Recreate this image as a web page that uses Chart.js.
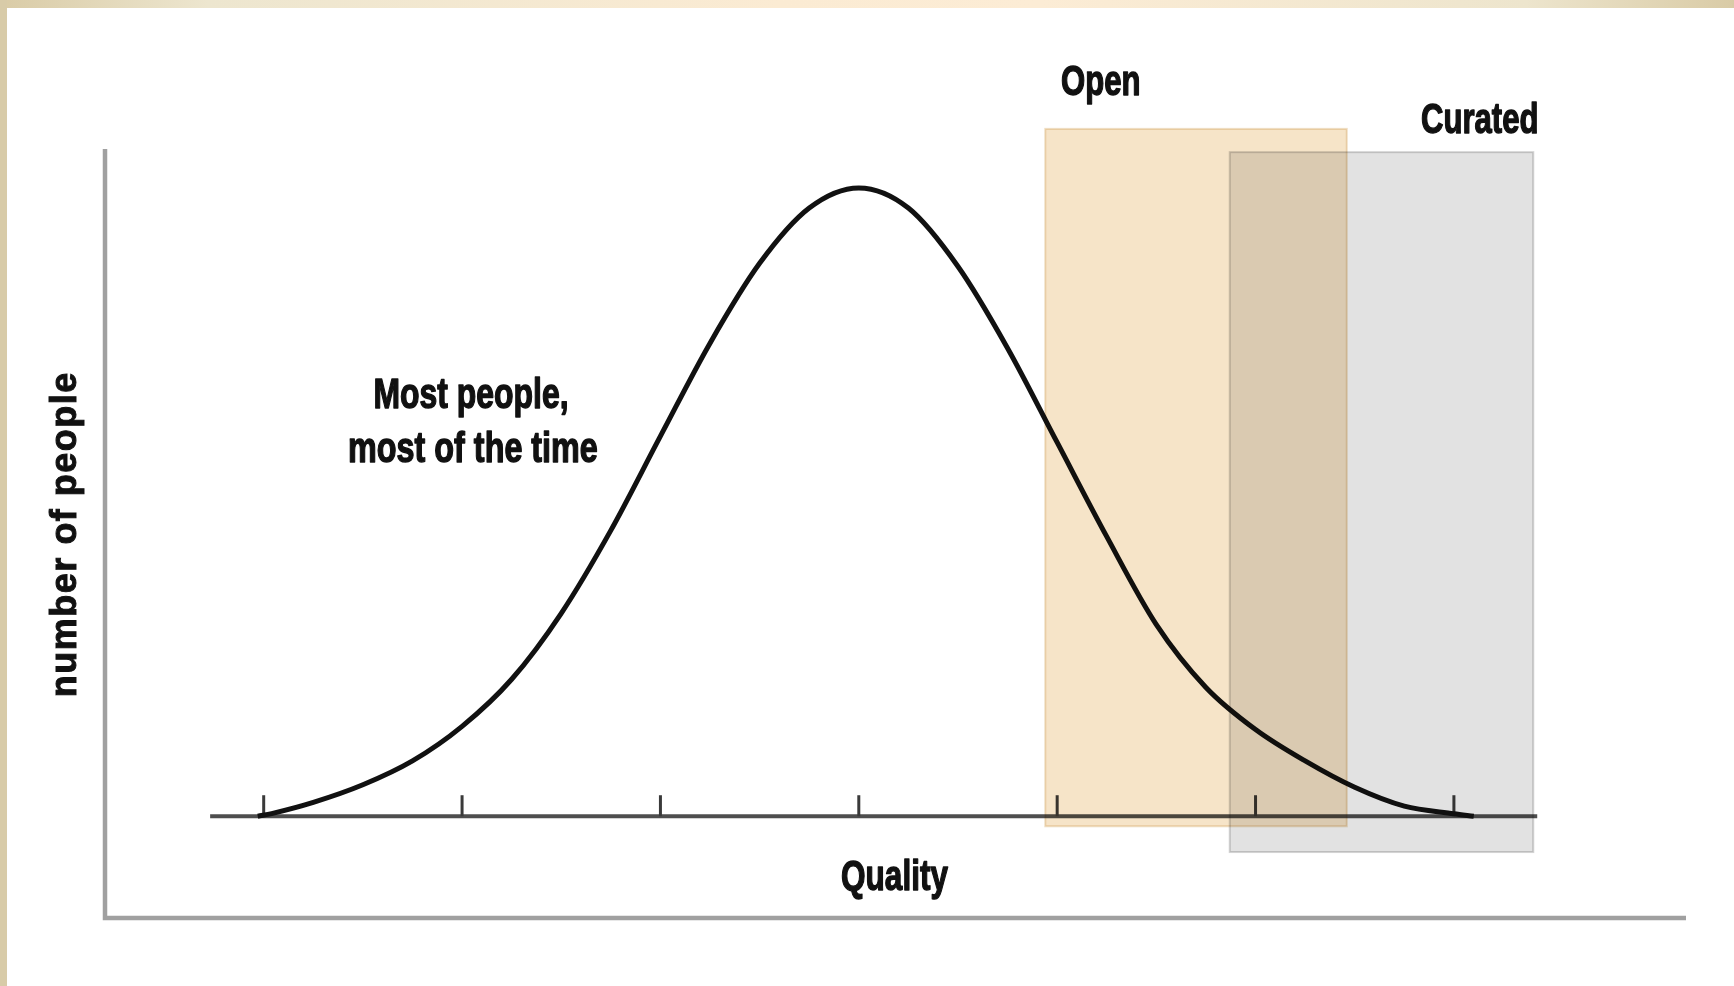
<!DOCTYPE html>
<html>
<head>
<meta charset="utf-8">
<title>Quality distribution</title>
<script src="https://cdn.jsdelivr.net/npm/chart.js@4.4.1/dist/chart.umd.min.js"></script>
<style>
    html, body { margin: 0; padding: 0; background: #fff; }
    canvas { display: block; }
</style>
</head>
<body>
<canvas id="chart" width="1734" height="986"></canvas>
<script>
// Curve: x in tick units (0 = middle tick), y in % of the peak
const qualityX = [-3.03, -2.95, -2.75, -2.5, -2.25, -2.0, -1.75, -1.5, -1.25, -1.0, -0.75, -0.5, -0.25,
                  0, 0.25, 0.5, 0.75, 1.0, 1.25, 1.5, 1.75, 2.0, 2.25, 2.5, 2.75, 3.0, 3.1];
const peopleY  = [0, 0.5, 2.2, 5.0, 8.8, 14.3, 21.8, 32.3, 45.5, 60.5, 75.3, 88, 96.8,
                  100, 96.8, 87.5, 74.5, 59.5, 44.5, 30.5, 20.5, 13.8, 8.8, 4.6, 1.6, 0.4, 0];

// Tick marks on the quality axis and its extent
const tickValues = [-3, -2, -1, 0, 1, 2, 3];
const axisRange = [-3.27, 3.42];

// Shaded bands (x from/to in tick units, y low/high in % of peak)
const bandNames = ['Open', 'Curated'];
const bandStart = [0.94, 1.87];
const bandEnd   = [2.46, 3.40];
const bandLow   = [-1.6, -5.7];
const bandHigh  = [109.4, 105.7];

const FONT = '"Liberation Sans", Arial, sans-serif';

// condensed heavy lettering: squeeze a bold face horizontally and thicken it a little
function drawLabel(ctx, text, px, py, size, squeeze) {
    ctx.save();
    ctx.translate(px, py);
    ctx.scale(squeeze, 1);
    ctx.font = `bold ${size}px ${FONT}`;
    ctx.fillStyle = '#111';
    ctx.strokeStyle = '#111';
    ctx.lineWidth = 1.4;
    ctx.lineJoin = 'round';
    ctx.textAlign = 'center';
    ctx.textBaseline = 'alphabetic';
    ctx.fillText(text, 0, 0);
    ctx.strokeText(text, 0, 0);
    ctx.restore();
}

const sketchPlugin = {
    id: 'sketch',
    beforeDraw(chart) {
        const { ctx, width, height, chartArea: a } = chart;
        const xs = chart.scales.x, ys = chart.scales.y;
        ctx.save();
        ctx.fillStyle = '#fff';
        ctx.fillRect(0, 0, width, height);

        // page frame
        const g = ctx.createLinearGradient(0, 0, width, 0);
        g.addColorStop(0, '#d9cba6');
        g.addColorStop(0.12, '#ede6cf');
        g.addColorStop(0.45, '#fbebd3');
        g.addColorStop(0.6, '#fcecd5');
        g.addColorStop(0.88, '#ede5cd');
        g.addColorStop(1, '#d9cba6');
        ctx.fillStyle = g;
        ctx.fillRect(0, 0, width, 8);
        ctx.fillStyle = '#d8cba8';
        ctx.fillRect(0, 0, 7, height);

        // outer L axes
        ctx.strokeStyle = '#a0a0a0';
        ctx.lineWidth = 4.5;
        ctx.beginPath();
        ctx.moveTo(a.left, a.top);
        ctx.lineTo(a.left, a.bottom);
        ctx.lineTo(a.right, a.bottom);
        ctx.stroke();

        // inner quality axis with ticks
        const y0 = ys.getPixelForValue(0);
        ctx.strokeStyle = '#4e4e4e';
        ctx.lineWidth = 4;
        ctx.beginPath();
        ctx.moveTo(xs.getPixelForValue(axisRange[0]), y0);
        ctx.lineTo(xs.getPixelForValue(axisRange[1]), y0);
        ctx.stroke();
        ctx.strokeStyle = '#3a3a3a';
        ctx.lineWidth = 3;
        tickValues.forEach(v => {
            const px = xs.getPixelForValue(v);
            ctx.beginPath();
            ctx.moveTo(px, y0);
            ctx.lineTo(px, y0 - 21);
            ctx.stroke();
        });
        ctx.restore();
    },
    afterDatasetsDraw(chart) {
        const { ctx, chartArea: a } = chart;
        const xs = chart.scales.x, ys = chart.scales.y;
        const fills = ['#f6e4c8', '#e2e2e2'];
        const edges = ['#f0e0c6', '#d4d4d4'];

        ctx.save();
        ctx.globalCompositeOperation = 'multiply';
        bandNames.forEach((name, i) => {
            const l = xs.getPixelForValue(bandStart[i]);
            const r = xs.getPixelForValue(bandEnd[i]);
            const t = ys.getPixelForValue(bandHigh[i]);
            const b = ys.getPixelForValue(bandLow[i]);
            ctx.fillStyle = fills[i];
            ctx.fillRect(l, t, r - l, b - t);
            ctx.strokeStyle = edges[i];
            ctx.lineWidth = 2;
            ctx.strokeRect(l, t, r - l, b - t);
        });
        ctx.restore();

        // text
        drawLabel(ctx, 'Open', xs.getPixelForValue(1.22), ys.getPixelForValue(114.8), 42, 0.74);
        drawLabel(ctx, 'Curated', xs.getPixelForValue(3.13), ys.getPixelForValue(108.8), 42, 0.74);
        drawLabel(ctx, 'Quality', xs.getPixelForValue(0.18), ys.getPixelForValue(-11.8), 42, 0.75);
        drawLabel(ctx, 'Most people,', xs.getPixelForValue(-1.955), ys.getPixelForValue(65), 42, 0.76);
        drawLabel(ctx, 'most of the time', xs.getPixelForValue(-1.945), ys.getPixelForValue(56.4), 42, 0.77);

        ctx.save();
        ctx.translate(a.left - 39, ys.getPixelForValue(44.9));
        ctx.rotate(-Math.PI / 2);
        ctx.font = `bold 36px ${FONT}`;
        ctx.letterSpacing = '1.5px';
        ctx.fillStyle = '#111';
        ctx.strokeStyle = '#111';
        ctx.lineWidth = 1;
        ctx.textAlign = 'center';
        ctx.textBaseline = 'middle';
        ctx.fillText('number of people', 0, 0);
        ctx.strokeText('number of people', 0, 0);
        ctx.restore();
    }
};

const ctx = document.getElementById('chart').getContext('2d');
const chart = new Chart(ctx, {
    type: 'line',
    data: {
        datasets: [{
            label: 'People',
            data: qualityX.map((x, i) => ({ x: x, y: peopleY[i] })),
            borderColor: '#111',
            borderWidth: 5,
            pointRadius: 0,
            fill: false,
            cubicInterpolationMode: 'monotone'
        }]
    },
    options: {
        responsive: false,
        devicePixelRatio: 1,
        animation: false,
        layout: { padding: { left: 105, right: 48, top: 149, bottom: 68 } },
        plugins: { legend: { display: false }, tooltip: { enabled: false } },
        scales: {
            x: { type: 'linear', min: -3.8, max: 4.17, display: false },
            y: { type: 'linear', min: -16.2, max: 106.2, display: false }
        }
    },
    plugins: [sketchPlugin]
});
</script>
</body>
</html>
